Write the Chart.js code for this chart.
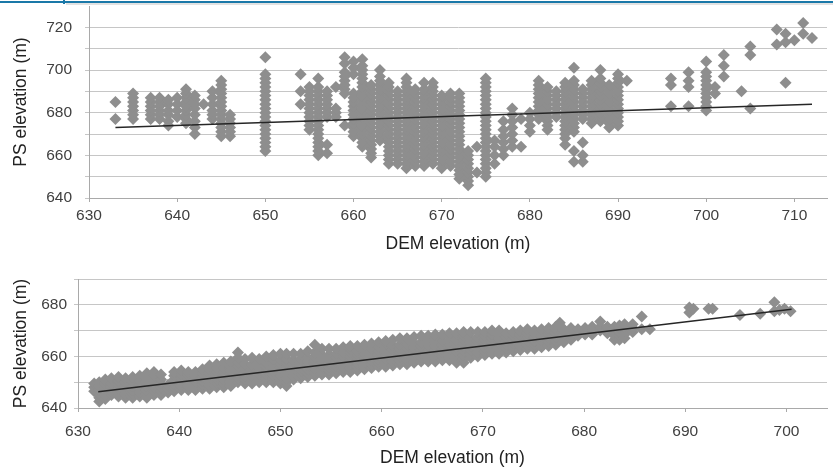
<!DOCTYPE html>
<html>
<head>
<meta charset="utf-8">
<script src="https://cdn.jsdelivr.net/npm/chart.js@4.4.0/dist/chart.umd.min.js"></script>
<style>
    html, body { margin: 0; padding: 0; background: #fff; width: 833px; height: 469px; overflow: hidden; }
    .box { position: absolute; left: 0; width: 833px; }
    #band { position: absolute; left: 0; top: 1px; width: 833px; height: 2px; background: #1a78a8; }
    #notch { position: absolute; left: 63px; top: 0; width: 2px; height: 4px; background: #1a78a8; }
    #shade { position: absolute; left: 66px; top: 3px; width: 767px; height: 2px; background: #e2e2e2; }
</style>
</head>
<body>
<div id="band"></div><div id="notch"></div><div id="shade"></div>
<div class="box" style="top:0;height:256px"><canvas id="chart_top" width="833" height="256"></canvas></div>
<div class="box" style="top:262px;height:207px"><canvas id="chart_bottom" width="833" height="207"></canvas></div>
<script>
// Top panel: each row is [DEM x, PS y, PS y, ...]
var topCols = [
    [633, 677, 685],
    [635, 677, 679, 681, 683, 685, 687, 689],
    [637, 677, 679, 681, 683, 685, 687],
    [638, 677, 679, 681, 683, 685, 687],
    [639, 674, 676, 679, 681, 684, 686],
    [640, 678, 681, 684, 687],
    [641, 675, 677, 679, 681, 683, 685, 687, 689, 691],
    [642, 670, 673, 676, 679, 682, 684, 686, 688],
    [643, 684],
    [644, 677, 679, 681, 684, 687, 690],
    [645, 669, 671, 673, 675, 677, 679, 681, 683, 685, 687, 689, 691, 693, 695],
    [646, 669, 671, 673, 675, 677, 679],
    [650, 662, 664, 666, 668, 670, 672, 674, 676, 678, 680, 682, 684, 686, 688, 690, 692, 694, 696, 698, 706],
    [654, 684, 690, 698],
    [655, 672, 674, 676, 678, 680, 682, 684, 686, 688, 690, 692],
    [656, 660, 662, 664, 666, 668, 670, 672, 674, 676, 678, 680, 682, 684, 686, 688, 690, 692, 696],
    [657, 661, 665, 678, 680, 682, 684, 686, 688, 690],
    [658, 678, 680, 682, 692],
    [659, 674, 689, 691, 693, 695, 697, 699, 703, 706],
    [660, 669, 671, 673, 675, 677, 679, 681, 683, 685, 687, 689, 698, 701, 704],
    [661, 664, 666, 668, 670, 672, 674, 676, 678, 680, 682, 684, 686, 688, 690, 692, 694, 696, 698, 700, 702, 705],
    [662, 659, 661, 663, 665, 667, 669, 671, 673, 675, 677, 679, 681, 683, 685, 687, 689, 691, 693],
    [663, 667, 669, 671, 673, 675, 677, 679, 681, 683, 685, 687, 689, 691, 693, 695, 697, 700],
    [664, 656, 658, 660, 662, 664, 666, 668, 670, 672, 674, 676, 678, 680, 682, 684, 686, 688, 690, 692, 694],
    [665, 656, 658, 660, 662, 664, 666, 668, 670, 672, 674, 676, 678, 680, 682, 684, 686, 688, 690],
    [666, 654, 656, 658, 660, 662, 664, 666, 668, 670, 672, 674, 676, 678, 680, 682, 684, 686, 688, 690, 692, 694, 696],
    [667, 655, 657, 659, 661, 663, 665, 667, 669, 671, 673, 675, 677, 679, 681, 683, 685, 687, 689, 691],
    [668, 655, 657, 659, 661, 663, 665, 667, 669, 671, 673, 675, 677, 679, 681, 683, 685, 687, 689, 691, 694],
    [669, 656, 658, 660, 662, 664, 666, 668, 670, 672, 674, 676, 678, 680, 682, 684, 686, 688, 690, 692, 694],
    [670, 654, 656, 658, 660, 662, 664, 666, 668, 670, 672, 674, 676, 678, 680, 682, 684, 686, 688],
    [671, 655, 657, 659, 661, 663, 665, 667, 669, 671, 673, 675, 677, 679, 681, 683, 685, 687, 689],
    [672, 649, 651, 653, 655, 657, 659, 661, 663, 665, 667, 669, 671, 673, 675, 677, 679, 681, 683, 685, 687, 689],
    [673, 646, 648, 650, 652, 654, 656, 658, 660, 662],
    [674, 652, 664],
    [675, 650, 652, 654, 656, 658, 660, 662, 664, 666, 668, 670, 672, 674, 676, 678, 680, 682, 684, 686, 688, 690, 692, 694, 696],
    [676, 656, 660, 664, 667],
    [677, 660, 663, 666, 669, 672, 676],
    [678, 664, 667, 670, 673, 676, 679, 682],
    [679, 664, 677],
    [680, 671, 674, 677, 680],
    [681, 677, 679, 681, 683, 685, 687, 689, 691, 693, 695],
    [682, 672, 674, 676, 678, 680, 682, 684, 686, 688, 690, 692],
    [683, 678, 680, 682, 684, 686, 688, 690],
    [684, 665, 668, 670, 672, 674, 676, 678, 680, 682, 684, 686, 688, 690, 692, 694],
    [685, 657, 662, 671, 673, 675, 677, 679, 681, 683, 685, 687, 689, 691, 693, 695, 701],
    [686, 657, 660, 666, 677, 679, 681, 683, 685, 687, 689, 691],
    [687, 675, 677, 679, 681, 683, 685, 687, 689, 691, 693, 695],
    [688, 676, 678, 680, 682, 684, 686, 688, 690, 692, 694, 696, 700],
    [689, 673, 675, 677, 679, 681, 683, 685, 687, 689, 691, 693],
    [690, 674, 676, 678, 680, 682, 684, 686, 688, 690, 692, 694, 696, 698],
    [691, 695],
    [696, 683, 693, 696],
    [698, 683, 692, 695, 699],
    [700, 681, 683, 685, 687, 689, 691, 693, 695, 697, 699, 704],
    [701, 689, 692],
    [702, 697, 702, 707],
    [704, 690],
    [705, 682, 707, 711],
    [708, 712, 719],
    [709, 694, 713, 717],
    [710, 714],
    [711, 717, 722],
    [712, 715]
];
var topTrend = [[633, 673], [712, 684]];
var topXTicks = [630, 640, 650, 660, 670, 680, 690, 700, 710];
var topYTicks = [640, 650, 660, 670, 680, 690, 700, 710, 720];
var topYLabels = [640, 660, 680, 700, 720];

// Bottom panel
var bottomCols = [
    [631.6, 646.5, 648, 649.5],
    [632.1, 642.5, 644, 645.5, 647, 648.5, 650],
    [632.7, 643.5, 645, 646.5, 648, 649.5, 651],
    [633.3, 645, 646.5, 648, 649.5, 651.5],
    [634.0, 644.5, 646, 647.5, 649, 650.5, 652],
    [634.7, 644, 645.5, 647, 648.5, 650, 651.5],
    [635.4, 644, 645.5, 647, 648.5, 650, 652],
    [636.1, 644.5, 646, 647.5, 649, 650.5, 652.5],
    [636.8, 644, 645.5, 647, 648.5, 650, 651.5, 653.5],
    [637.5, 645, 646.5, 648, 649.5, 651, 652.5, 654],
    [638.2, 645, 646.5, 648, 649.5, 651, 653],
    [638.9, 646, 647.5, 649],
    [639.5, 646.5, 648, 649.5, 651, 652.5, 654],
    [640.2, 647, 648.5, 650, 651.5, 653, 654.5],
    [640.9, 647, 648.5, 650, 651.5, 653, 654],
    [641.6, 647, 648.5, 650, 651.5, 653, 654],
    [642.3, 647.5, 649, 650.5, 652, 653.5, 655],
    [643.0, 647.5, 649, 650.5, 652, 653.5, 655, 656.5],
    [643.7, 648, 649.5, 651, 652.5, 654, 655.5, 657],
    [644.4, 648, 649.5, 651, 652.5, 654, 655.5, 657.5],
    [645.1, 648.5, 650, 651.5, 653, 654.5, 656, 658],
    [645.8, 650, 651.5, 653, 654.5, 656, 657.5, 659.5, 661.5],
    [646.5, 649.5, 651, 652.5, 654, 655.5, 657, 659],
    [647.2, 649.5, 651, 652.5, 654, 655.5, 657, 659.5],
    [647.9, 650, 651.5, 653, 654.5, 656, 657.5, 659],
    [648.6, 650, 651.5, 653, 654.5, 656, 657.5, 660],
    [649.3, 650, 651.5, 653, 654.5, 656, 657.5, 659, 660.5],
    [650.0, 649.5, 651, 652.5, 654, 655.5, 657, 658.5, 661],
    [650.6, 648.5, 650, 651.5, 653, 654.5, 656, 657.5, 659, 661],
    [651.3, 651, 652.5, 654, 655.5, 657, 658.5, 661],
    [652.0, 651.5, 653, 654.5, 656, 657.5, 659, 661],
    [652.7, 652, 653.5, 655, 656.5, 658, 659.5, 662],
    [653.4, 652.5, 654, 655.5, 657, 658.5, 660, 661.5, 664.5],
    [654.1, 653, 654.5, 656, 657.5, 659, 660.5, 663],
    [654.8, 653, 654.5, 656, 657.5, 659, 660.5, 663],
    [655.5, 653.5, 655, 656.5, 658, 659.5, 661, 663],
    [656.2, 654, 655.5, 657, 658.5, 660, 661.5, 663.5],
    [656.9, 654, 655.5, 657, 658.5, 660, 661.5, 663, 664],
    [657.6, 654.5, 656, 657.5, 659, 660.5, 662, 664],
    [658.3, 655, 656.5, 658, 659.5, 661, 662.5, 664.5],
    [659.0, 655.5, 657, 658.5, 660, 661.5, 663, 665],
    [659.7, 656, 657.5, 659, 660.5, 662, 663.5, 665.5],
    [660.4, 656, 657.5, 659, 660.5, 662, 663.5, 665, 666],
    [661.1, 656.5, 658, 659.5, 661, 662.5, 664, 666.5],
    [661.8, 657, 658.5, 660, 661.5, 663, 664.5, 667],
    [662.5, 657, 658.5, 660, 661.5, 663, 664.5, 666, 667],
    [663.2, 657.5, 659, 660.5, 662, 663.5, 665, 667.5],
    [663.9, 658, 659.5, 661, 662.5, 664, 665.5, 668],
    [664.6, 658, 659.5, 661, 662.5, 664, 665.5, 667, 668],
    [665.3, 658, 659.5, 661, 662.5, 664, 665.5, 667, 668.5],
    [666.0, 658.5, 660, 661.5, 663, 664.5, 666, 668.5],
    [666.7, 658.5, 660, 661.5, 663, 664.5, 666, 667.5, 669],
    [667.4, 657.5, 659, 660.5, 662, 663.5, 665, 666.5, 669],
    [668.1, 657.5, 659, 660.5, 662, 663.5, 665, 666.5, 668, 669.5],
    [668.8, 659.5, 661, 662.5, 664, 665.5, 667, 669.5],
    [669.5, 660, 661.5, 663, 664.5, 666, 667.5, 669.5],
    [670.2, 660.5, 662, 663.5, 665, 666.5, 668, 669.5],
    [670.9, 661, 662.5, 664, 665.5, 667, 668.5, 670],
    [671.6, 661, 662.5, 664, 665.5, 667, 668.5, 670],
    [672.3, 661.5, 663, 664.5, 666, 667.5, 669],
    [673.0, 662, 663.5, 665, 666.5, 668, 669.5],
    [673.7, 662.5, 664, 665.5, 667, 668.5, 670],
    [674.4, 663, 664.5, 666, 667.5, 669, 670.5],
    [675.1, 663, 664.5, 666, 667.5, 669, 670],
    [675.8, 663.5, 665, 666.5, 668, 669.5, 670.5],
    [676.5, 664, 665.5, 667, 668.5, 670, 671],
    [677.2, 664.5, 666, 667.5, 669, 670.5, 671.5],
    [677.6, 673],
    [678.0, 665.5, 667, 668.5, 670, 670.5],
    [678.7, 666.5, 668, 669.5, 671],
    [679.4, 668, 669.5, 670.5],
    [680.1, 668.5, 670, 671],
    [680.8, 668.5, 670, 671.5],
    [681.6, 670, 671.5, 673.5],
    [682.3, 669, 670.5, 671.5],
    [683.0, 666.5, 668, 669.5, 671, 671.5],
    [683.5, 666.5, 668, 669.5, 671, 672],
    [684.0, 667, 668.5, 670, 671.5, 672.5],
    [684.8, 669.5, 671, 672.5],
    [685.7, 670.5, 675.5],
    [686.5, 670.5],
    [690.4, 677, 679],
    [690.8, 678.5],
    [692.3, 678.5],
    [692.7, 678.5],
    [695.4, 676],
    [697.4, 676.5],
    [698.8, 677.5, 681],
    [699.3, 678],
    [699.8, 678.5],
    [700.4, 677.5]
];
var bottomTrend = [[632, 646.3], [700.5, 678.3]];
var bottomXTicks = [630, 640, 650, 660, 670, 680, 690, 700];
var bottomYTicks = [640, 650, 660, 670, 680, 690];
var bottomYLabels = [640, 660, 680];

var tickFont = { family: "'Liberation Sans', Arial, sans-serif", size: 15.5 };
var titleFont = { family: "'Liberation Sans', Arial, sans-serif", size: 17.5 };

function make_scatter(canvas_id, cols, trend, o) {
    var points = [];
    cols.forEach(function (c) {
        c.slice(1).forEach(function (y) { points.push({ x: c[0], y: y }); });
    });

    new Chart(document.getElementById(canvas_id), {
        type: "scatter",
        data: {
            datasets: [
                {
                    type: "line",
                    data: trend.map(p => ({ x: p[0], y: p[1] })),
                    borderColor: "#262626",
                    borderWidth: 1.5,
                    pointRadius: 0,
                    fill: false,
                    order: 0
                },
                {
                    data: points,
                    pointStyle: "rectRot",
                    pointRadius: o.radius,
                    backgroundColor: "#8e8e8e",
                    borderWidth: 0,
                    order: 1
                }
            ]
        },
        options: {
            responsive: false,
            animation: false,
            events: [],
            layout: { padding: { top: o.padTop, right: 0, bottom: 0, left: 0 } },
            plugins: { legend: { display: false }, tooltip: { enabled: false } },
            scales: {
                x: {
                    type: "linear",
                    min: o.xMin,
                    max: o.xMax,
                    afterBuildTicks: s => { s.ticks = o.xTicks.map(v => ({ value: v })); },
                    afterFit: s => { s.height = o.xHeight; s.paddingLeft = 0; s.paddingRight = 0; },
                    grid: { drawOnChartArea: false, drawTicks: true, tickLength: 4, color: "#a9a9a9" },
                    border: { color: "#a9a9a9" },
                    ticks: { font: tickFont, color: "#404040", padding: o.xTickPad, maxRotation: 0, autoSkip: false },
                    title: { display: true, text: "DEM elevation (m)", font: titleFont, color: "#222",
                             padding: { top: 0, bottom: o.xTitlePad } }
                },
                y: {
                    type: "linear",
                    min: o.yMin,
                    max: o.yMax,
                    afterBuildTicks: s => { s.ticks = o.yTicks.map(v => ({ value: v })); },
                    afterFit: s => { s.width = o.yWidth; s.paddingTop = 0; s.paddingBottom = 0; },
                    grid: { color: "#c6c6c6", tickLength: 4 },
                    border: { color: "#a9a9a9" },
                    ticks: {
                        font: tickFont, color: "#404040", padding: o.yTickPad, autoSkip: false,
                        callback: v => o.yLabels.indexOf(v) >= 0 ? String(v) : ""
                    },
                    title: { display: true, text: "PS elevation (m)", font: titleFont, color: "#222",
                             padding: { top: 10.5, bottom: 0 } }
                }
            }
        }
    });
}

make_scatter("chart_top", topCols, topTrend, {
    padTop: 6, xMin: 630, xMax: 713.7, yMin: 640, yMax: 730, radius: 6,
    xTicks: topXTicks, yTicks: topYTicks, yLabels: topYLabels,
    xHeight: 58, yWidth: 89, xTickPad: 4, yTickPad: 13, xTitlePad: 1.5
});

make_scatter("chart_bottom", bottomCols, bottomTrend, {
    padTop: 17, xMin: 630, xMax: 704, yMin: 640, yMax: 690, radius: 6,
    xTicks: bottomXTicks, yTicks: bottomYTicks, yLabels: bottomYLabels,
    xHeight: 61, yWidth: 78, xTickPad: 10, yTickPad: 7, xTitlePad: 0.5
});
</script>
</body>
</html>
